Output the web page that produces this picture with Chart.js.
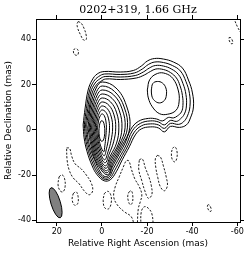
<!DOCTYPE html>
<html><head><meta charset="utf-8">
<script src="https://cdn.jsdelivr.net/npm/chart.js@4"></script>
<style>html,body{margin:0;padding:0;background:#fff}canvas{display:block}</style>
</head><body>
<canvas id="c" width="249" height="254"></canvas>
<script>
const titleText = '0202+319, 1.66 GHz';
const xLabel = 'Relative Right Ascension (mas)';
const yLabel = 'Relative Declination (mas)';
const xTicks = [20, 0, -20, -40, -60];
const yTicks = [40, 20, 0, -20, -40];
const xRange = [-61.2, 29.2];
const yRange = [-40.7, 49.0];
const beamCenter = [20.5, -32.2];
const beamAxes = [13.9, 4.2];   // major, minor (mas)
const beamPA = 17;              // deg, east of north

// positive contours (mas): shared envelopes around core + NW component
const pos1 = [[8.31,2.21],[7.42,9.70],[6.09,17.64],[4.31,22.05],[2.09,24.70],[-1.02,25.80],[-8.13,25.58],[-13.91,26.24],[-17.47,28.22],[-20.13,30.43],[-23.24,31.53],[-27.24,31.31],[-31.69,29.99],[-35.69,27.34],[-38.35,22.05],[-40.13,16.32],[-40.57,10.14],[-39.24,5.29],[-37.46,2.21],[-34.35,1.10],[-30.35,1.54],[-27.69,-0.88],[-25.02,0.88],[-21.47,1.32],[-17.47,0.44],[-14.80,-2.21],[-12.13,-7.50],[-9.02,-13.23],[-6.36,-18.52],[-3.69,-22.05],[-1.02,-22.49],[2.09,-19.85],[4.31,-15.88],[6.53,-9.70],[7.87,-3.53]];
const pos2 = [[7.78,2.21],[6.84,9.48],[5.51,17.20],[3.64,21.39],[1.42,23.59],[-1.24,24.70],[-8.13,24.48],[-14.35,25.14],[-17.91,26.90],[-20.58,28.89],[-23.47,29.99],[-27.24,29.77],[-31.24,28.44],[-34.80,26.02],[-37.24,21.39],[-38.80,16.10],[-39.02,10.36],[-37.91,6.17],[-36.13,3.53],[-33.91,2.43],[-30.35,2.87],[-27.69,0.66],[-25.02,2.21],[-21.47,2.65],[-17.47,1.76],[-14.13,-1.32],[-11.47,-7.06],[-8.36,-12.79],[-5.69,-17.86],[-3.47,-21.39],[-1.02,-21.83],[1.64,-19.40],[3.78,-15.44],[5.96,-9.48],[7.29,-3.53]];
const pos3 = [[7.24,2.21],[6.27,9.26],[4.93,16.76],[2.98,20.73],[0.98,22.49],[-1.47,23.59],[-8.13,23.37],[-14.80,24.03],[-18.35,25.58],[-21.02,27.34],[-23.69,28.44],[-27.24,28.22],[-30.80,26.90],[-33.91,24.48],[-35.91,20.51],[-37.24,15.66],[-37.46,10.58],[-36.57,7.06],[-34.80,4.85],[-33.02,3.75],[-30.35,4.19],[-27.69,2.21],[-25.02,3.53],[-21.47,3.97],[-17.02,2.87],[-13.47,-0.44],[-10.80,-6.62],[-7.69,-12.35],[-5.02,-17.20],[-3.24,-20.73],[-1.02,-21.17],[1.20,-18.96],[3.24,-14.99],[5.38,-9.26],[6.71,-3.53]];
const pos4 = [[6.71,2.21],[5.73,9.04],[4.31,16.32],[2.31,20.07],[0.53,21.39],[-1.69,22.49],[-8.13,22.27],[-15.24,22.93],[-18.80,24.26],[-21.47,25.80],[-23.91,26.90],[-27.24,26.68],[-30.35,25.36],[-33.02,22.93],[-34.58,19.62],[-35.69,15.21],[-35.91,10.80],[-35.24,7.94],[-33.46,6.17],[-31.69,5.29],[-29.46,5.51],[-26.80,3.97],[-24.13,4.85],[-20.58,5.07],[-16.13,3.75],[-12.80,0.22],[-10.13,-6.17],[-7.02,-11.91],[-4.58,-16.54],[-3.02,-20.07],[-1.02,-20.51],[0.76,-18.52],[2.71,-14.55],[4.84,-9.04],[6.18,-3.53]];
// core-only contours
const core5 = [[6.18,0.88],[4.92,11.03],[2.52,18.53],[-0.13,21.17],[-6.24,18.53],[-10.75,11.03],[-12.36,0.88],[-8.76,-7.41],[-4.87,-14.66],[-2.4,-19.85],[2.23,-14.66],[4.70,-7.41]];
const core6 = [[5.64,0.88],[4.49,10.14],[2.29,17.0],[-0.13,19.40],[-5.58,17.0],[-9.85,10.14],[-11.3,0.88],[-8.25,-7.06],[-4.52,-14.0],[-2.2,-18.96],[2.0,-14.0],[4.28,-7.06]];
const core7 = [[5.11,0.88],[4.06,9.26],[2.07,15.46],[-0.13,17.64],[-5.2,15.46],[-8.95,9.26],[-10.27,0.88],[-7.74,-6.70],[-4.17,-13.34],[-2.0,-18.08],[1.77,-13.34],[3.86,-6.70]];
const core8 = [[4.58,0.88],[3.64,8.38],[1.85,13.93],[-0.13,15.88],[-4.51,13.93],[-7.75,8.38],[-8.89,0.88],[-7.28,-6.26],[-3.90,-12.52],[-1.8,-16.98],[1.54,-12.52],[3.44,-6.26]];
const core9 = [[4.04,0.88],[3.21,7.50],[1.62,12.39],[-0.13,14.11],[-3.82,12.39],[-6.55,7.50],[-7.51,0.88],[-6.5,-5.82],[-3.64,-11.69],[-1.6,-15.88],[1.31,-11.69],[3.02,-5.82]];
const core10 = [[3.51,0.88],[2.78,6.62],[1.40,10.86],[-0.13,12.35],[-3.13,10.86],[-5.36,6.62],[-6.13,0.88],[-5.2,-5.29],[-3.2,-10.69],[-1.4,-14.55],[1.08,-10.69],[2.60,-5.29]];
const core11 = [[2.98,0.88],[2.36,5.73],[1.18,9.32],[-0.13,10.58],[-2.44,9.32],[-4.16,5.73],[-4.76,0.88],[-4.05,-4.76],[-2.7,-9.70],[-1.2,-13.23],[0.84,-9.70],[2.18,-4.76]];
const core12 = [[2.44,0.88],[1.93,4.85],[0.95,7.79],[-0.13,8.82],[-1.76,7.79],[-2.96,4.85],[-3.38,0.88],[-2.9,-4.06],[-2.0,-8.38],[-1.0,-11.47],[0.70,-8.38],[1.79,-4.06]];
const core13 = [[1.91,0.88],[1.50,3.97],[0.73,6.25],[-0.13,7.06],[-1.07,6.25],[-1.76,3.97],[-2.0,0.88],[-1.7,-3.35],[-1.3,-7.06],[-0.8,-9.70],[0.56,-7.06],[1.40,-3.35]];
const core14 = [[1.3,-0.5],[1.12,1.8],[0.65,3.5],[0,4.1],[-0.65,3.5],[-1.12,1.8],[-1.3,-0.5],[-1.12,-2.8],[-0.65,-4.5],[0,-5.1],[0.65,-4.5],[1.12,-2.8]];
// NW component own contours
const lobe5 = [[-20.13,17.64],[-21.24,22.27],[-24.58,24.92],[-28.13,24.92],[-31.46,22.71],[-33.8,17.64],[-34.2,12.35],[-32.8,8.6],[-29.02,6.9],[-25.46,7.2],[-22.35,10.2],[-20.58,14.11]];
const lobe6 = [[-21.91,17.64],[-22.58,20.51],[-24.58,21.39],[-26.80,20.73],[-28.35,18.52],[-28.58,15.44],[-27.69,13.01],[-25.46,11.91],[-23.24,13.01],[-22.13,14.99]];

// negative contours (closed)
const negN1 = [[10.53,47.85],[9.20,47.19],[7.87,44.76],[6.98,41.90],[6.98,39.91],[8.09,39.69],[9.42,41.90],[10.75,44.98],[10.98,46.97]];
const negN2 = [[12.53,35.28],[11.87,35.94],[10.75,35.50],[10.40,33.96],[10.98,32.99],[12.09,33.30],[12.62,34.40]];
const negN4 = [[-56.35,40.79],[-57.02,40.79],[-57.91,39.25],[-57.91,38.15],[-57.24,38.15],[-56.35,39.69]];
const negS1 = [[18.98,-20.73],[17.64,-19.85],[16.53,-21.61],[16.31,-25.14],[17.20,-27.34],[18.53,-26.90],[19.42,-24.26]];
const negS2 = [[15.64,-7.94],[14.31,-8.16],[13.42,-11.47],[11.87,-14.99],[9.20,-17.20],[6.98,-19.85],[4.76,-23.37],[4.09,-26.90],[5.64,-28.67],[7.87,-26.90],[10.09,-23.81],[12.75,-21.17],[14.53,-17.64],[15.42,-13.23]];
const negS3 = [[12.75,-28.22],[11.42,-27.34],[10.53,-29.55],[10.75,-32.63],[12.09,-33.30],[13.20,-30.87]];
const negS4 = [[-1.02,-28.22],[-2.58,-27.12],[-3.91,-28.67],[-4.13,-32.19],[-3.02,-34.84],[-1.24,-34.40],[-0.58,-31.31]];
const negS9 = [[-11.91,-27.56],[-13.02,-26.90],[-13.69,-29.11],[-13.47,-32.19],[-12.58,-33.08],[-11.69,-31.31],[-11.47,-29.11]];
const negB = [[-16.58,-13.23],[-17.91,-12.79],[-19.24,-16.76],[-20.80,-20.73],[-21.91,-24.70],[-22.13,-28.67],[-20.58,-30.21],[-19.02,-26.90],[-17.69,-22.49],[-16.35,-17.64]];
const negD = [[-24.58,-11.25],[-25.91,-11.91],[-27.24,-15.88],[-28.58,-21.17],[-29.02,-24.70],[-27.69,-26.90],[-25.91,-25.14],[-24.80,-21.17],[-23.91,-16.76],[-23.69,-12.79]];
const negE = [[-31.24,-8.16],[-32.35,-7.50],[-33.24,-9.26],[-33.24,-12.35],[-32.35,-14.11],[-31.24,-13.23],[-30.80,-10.58]];
const negF = [[-46.80,-33.30],[-47.46,-33.08],[-48.35,-34.62],[-48.35,-35.94],[-47.69,-35.94],[-46.80,-34.40]];
// negative contours that run off the map edge (open)
const negN3 = [[-57.68,51.16],[-58.80,48.51],[-60.13,45.42],[-61.69,42.77],[-63.24,40.57]];
const negA = [[-14.35,-42.34],[-13.02,-38.37],[-9.91,-36.16],[-6.80,-33.08],[-5.24,-29.55],[-5.91,-25.14],[-7.69,-20.73],[-9.69,-15.88],[-10.80,-13.67],[-11.91,-13.67],[-13.02,-17.20],[-14.58,-21.61],[-16.58,-25.14],[-17.69,-28.67],[-17.02,-31.75],[-16.13,-34.84],[-15.69,-42.34]];
const negC = [[-17.24,-42.34],[-17.47,-36.16],[-18.80,-33.96],[-20.58,-34.62],[-22.13,-37.04],[-22.80,-42.34]];

const posClosed = [pos1,pos2,pos3,pos4,core5,core6,core7,core8,core9,core10,core11,core12,core13,core14,lobe5,lobe6];
const negClosed = [negN1,negN2,negN4,negS1,negS2,negS3,negS4,negS9,negB,negD,negE,negF];
const negOpen = [negN3,negA,negC];

const toPts = (arr, close) => (close ? arr.concat([arr[0]]) : arr).map(([x,y]) => ({x, y}));
const datasets = [];
posClosed.forEach(c => datasets.push({data: toPts(c,true), borderColor:'#000', borderWidth:1, showLine:true, tension:0.4, pointRadius:0, fill:false}));
negClosed.forEach(c => datasets.push({data: toPts(c,true), borderColor:'#000', borderWidth:0.9, borderDash:[2.2,1.6], showLine:true, tension:0.4, pointRadius:0, fill:false}));
negOpen.forEach(c => datasets.push({data: toPts(c,false), borderColor:'#000', borderWidth:0.9, borderDash:[2.2,1.6], showLine:true, tension:0.4, pointRadius:0, fill:false}));

const beamPlugin = {
  id: 'beam',
  afterDatasetsDraw(chart) {
    const {ctx, scales: {x, y}} = chart;
    const cx = x.getPixelForValue(beamCenter[0]);
    const cy = y.getPixelForValue(beamCenter[1]);
    const sx = Math.abs(x.getPixelForValue(1) - x.getPixelForValue(0));
    const sy = Math.abs(y.getPixelForValue(1) - y.getPixelForValue(0));
    ctx.save();
    ctx.beginPath();
    ctx.ellipse(cx, cy, beamAxes[1] / 2 * sx, beamAxes[0] / 2 * sy, -beamPA * Math.PI / 180, 0, 2 * Math.PI);
    ctx.fillStyle = '#808080';
    ctx.fill();
    ctx.lineWidth = 1;
    ctx.strokeStyle = '#000';
    ctx.stroke();
    ctx.restore();
  }
};

const gridOpts = {display:true, drawOnChartArea:false, drawTicks:true, tickLength:4, color:'#000', lineWidth:1};
const borderOpts = {display:true, color:'#000', width:1};
const setX = s => { s.ticks = xTicks.map(v => ({value: v})); };
const setY = s => { s.ticks = yTicks.map(v => ({value: v})); };

new Chart(document.getElementById('c'), {
  type: 'scatter',
  data: {datasets},
  plugins: [beamPlugin],
  options: {
    responsive: false, animation: false, devicePixelRatio: 1,
    layout: {padding: 0},
    plugins: {legend: {display: false}, tooltip: {enabled: false}, title: {display: false}},
    scales: {
      x: {type:'linear', position:'bottom', reverse:true, min:xRange[0], max:xRange[1],
          afterBuildTicks: setX, afterFit: s => { s.height = 32; },
          ticks: {color:'#000', font:{family:'DejaVu Sans', size:8}, padding:1, maxRotation:0, autoSkip:false},
          grid: gridOpts, border: borderOpts,
          title: {display:true, text:xLabel, color:'#000', font:{family:'DejaVu Sans', size:9}, padding:{top:0, bottom:5}}},
      x2: {type:'linear', position:'top', reverse:true, min:xRange[0], max:xRange[1],
          afterBuildTicks: setX, afterFit: s => { s.height = 19; },
          ticks: {display:false}, grid: gridOpts, border: borderOpts,
          title: {display:true, text:titleText, color:'#000', font:{family:'DejaVu Serif', size:11}, padding:{top:4, bottom:0}}},
      y: {type:'linear', position:'left', min:yRange[0], max:yRange[1],
          afterBuildTicks: setY, afterFit: s => { s.width = 36; },
          ticks: {color:'#000', font:{family:'DejaVu Sans', size:8}, padding:1, autoSkip:false},
          grid: gridOpts, border: borderOpts,
          title: {display:true, text:yLabel, color:'#000', font:{family:'DejaVu Sans', size:9}, padding:{top:3, bottom:0}}},
      y2: {type:'linear', position:'right', min:yRange[0], max:yRange[1],
          afterBuildTicks: setY, afterFit: s => { s.width = 9; },
          ticks: {display:false}, grid: gridOpts, border: borderOpts}
    }
  }
});
</script>
</body></html>
